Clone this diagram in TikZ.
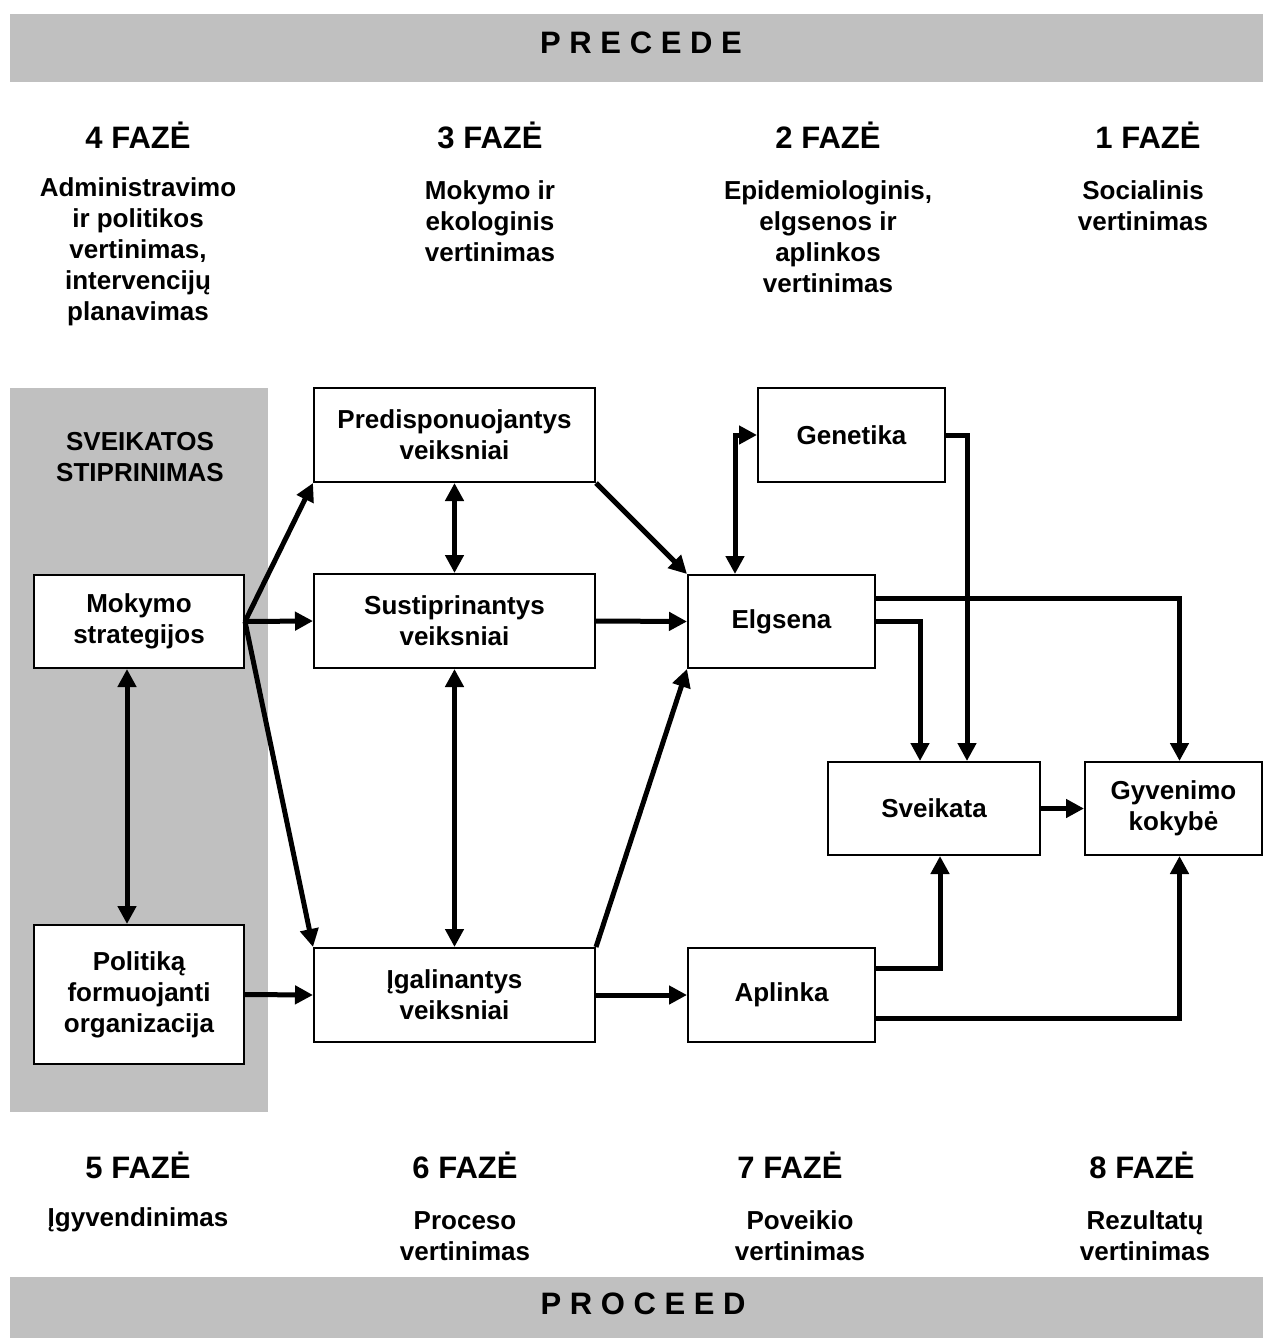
\documentclass[tikz,border=0pt]{standalone}
\usepackage{fontspec}
\setmainfont{Liberation Sans}
\usetikzlibrary{arrows.meta}
\definecolor{bandgray}{HTML}{C0C0C0}

\begin{document}
\begin{tikzpicture}[x=0.5pt,y=-0.5pt,>={Triangle[length=9pt,width=9pt]},
  txt/.style={font=\bfseries\fontsize{13}{15.5}\selectfont,align=center,inner sep=0pt},
  hdr/.style={font=\bfseries\fontsize{15.5}{18}\selectfont,inner sep=0pt},
  box/.style 2 args={draw,line width=1pt,fill=white,txt,minimum width=#1,minimum height=#2},
  arr/.style={->,line width=2.5pt},
  dbl/.style={<->,line width=2.5pt}]
 \useasboundingbox (0,0) rectangle (1263,1338);
 \fill[bandgray] (10,14) rectangle (1263,82);
 \node[hdr] (precede) at (641,43) {P R E C E D E};
 \fill[bandgray] (10,1277) rectangle (1263,1338);
 \node[hdr] (proceed) at (643,1304) {P R O C E E D};

 \node[hdr] (ph4) at (138,135) {4 FAZĖ};
 \node[hdr] (ph3) at (490,135) {3 FAZĖ};
 \node[hdr] (ph2) at (828,135) {2 FAZĖ};
 \node[hdr] (ph1) at (1148,135) {1 FAZĖ};
 \node[txt] (d4) at (138,252) {Administravimo\\ir politikos\\vertinimas,\\intervencijų\\planavimas};
 \node[txt] (d3) at (490,221) {Mokymo ir\\ekologinis\\vertinimas};
 \node[txt] (d2) at (828,237) {Epidemiologinis,\\elgsenos ir\\aplinkos\\vertinimas};
 \node[txt] (d1) at (1143,206) {Socialinis\\vertinimas};

 \node[hdr] (ph5) at (138,1165) {5 FAZĖ};
 \node[hdr] (ph6) at (465,1165) {6 FAZĖ};
 \node[hdr] (ph7) at (790,1165) {7 FAZĖ};
 \node[hdr] (ph8) at (1142,1165) {8 FAZĖ};
 \node[txt] (d5) at (138,1220) {Įgyvendinimas};
 \node[txt] (d6) at (465,1236) {Proceso\\vertinimas};
 \node[txt] (d7) at (800,1236) {Poveikio\\vertinimas};
 \node[txt] (d8) at (1145,1236) {Rezultatų\\vertinimas};

 \fill[bandgray] (10,388) rectangle (268,1112);
 \node[txt] (sstip) at (140,457) {SVEIKATOS\\STIPRINIMAS};

 \node[box={105pt}{46.5pt}] (mokymo) at (139,621.5) {Mokymo\\strategijos};
 \node[box={105pt}{69.5pt}] (politika) at (139,994.5) {Politiką\\formuojanti\\organizacija};
 \node[box={140.5pt}{47pt}] (predisp) at (454.5,435) {Predisponuojantys\\veiksniai};
 \node[box={140.5pt}{47pt}] (sustipr) at (454.5,621) {Sustiprinantys\\veiksniai};
 \node[box={140.5pt}{47pt}] (igalin) at (454.5,995) {Įgalinantys\\veiksniai};
 \node[box={93.5pt}{47pt}] (genetika) at (851.5,435) {Genetika};
 \node[box={93.5pt}{46.5pt}] (elgsena) at (781.5,621.5) {Elgsena};
 \node[box={93.5pt}{47pt}] (aplinka) at (781.5,995) {Aplinka};
 \node[box={106pt}{46.5pt}] (sveikata) at (934,808.5) {Sveikata};
 \node[box={88.5pt}{46.5pt}] (gyven) at (1173.5,808.5) {Gyvenimo\\kokybė};

 \draw[arr] (mokymo.east) -- (predisp.south west);
 \draw[arr] (mokymo.east) -- (sustipr.west);
 \draw[arr] (mokymo.east) -- (igalin.north west);
 \draw[dbl] ([xshift=-6pt]mokymo.south) -- ([xshift=-6pt]politika.north);
 \draw[arr] (politika.east) -- (igalin.west);
 \draw[dbl] (predisp.south) -- (sustipr.north);
 \draw[dbl] (sustipr.south) -- (igalin.north);
 \draw[arr] (predisp.south east) -- (elgsena.north west);
 \draw[arr] (sustipr.east) -- (elgsena.west);
 \draw[arr] (igalin.north east) -- (elgsena.south west);
 \draw[arr] (igalin.east) -- (aplinka.west);
 \draw[dbl] (genetika.west) -| ([xshift=-23.25pt]elgsena.north);
 \draw[arr] (genetika.east) -| ([xshift=16.5pt]sveikata.north);
 \draw[arr] ([yshift=11.75pt]elgsena.east) -| ([xshift=3pt]gyven.north);
 \draw[arr] (elgsena.east) -| ([xshift=-7pt]sveikata.north);
 \draw[arr] (sveikata.east) -- (gyven.west);
 \draw[arr] ([yshift=13.5pt]aplinka.east) -| ([xshift=3pt]sveikata.south);
 \draw[arr] ([yshift=-11.5pt]aplinka.east) -| ([xshift=3pt]gyven.south);
\end{tikzpicture}
\end{document}
